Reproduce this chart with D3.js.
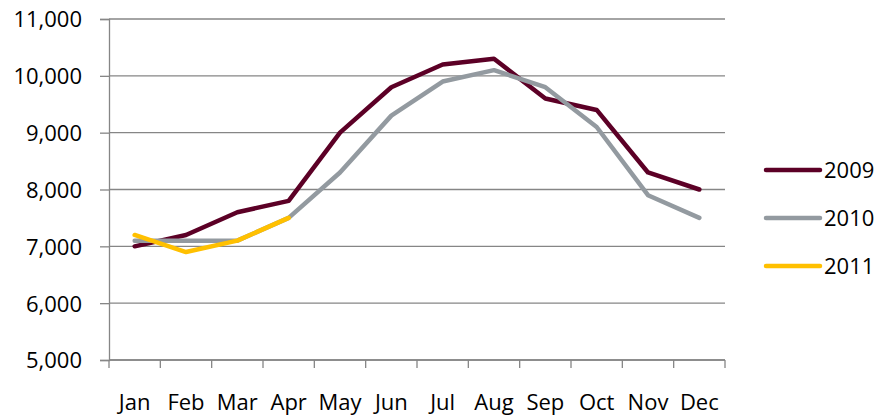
<!DOCTYPE html>
<html>
<head>
<meta charset="utf-8">
<script src="https://cdn.jsdelivr.net/npm/d3@7"></script>
<style>
  body { margin: 0; background: #fff; }
  text { font-family: "Open Sans", sans-serif; }
</style>
</head>
<body>
<div id="chart"></div>
<script>
const months = ['Jan', 'Feb', 'Mar', 'Apr', 'May', 'Jun', 'Jul', 'Aug', 'Sep', 'Oct', 'Nov', 'Dec'];
const years = ['2009', '2010', '2011'];
const values2009 = [7000, 7200, 7600, 7800, 9000, 9800, 10200, 10300, 9600, 9400, 8300, 8000];
const values2010 = [7100, 7100, 7100, 7500, 8300, 9300, 9900, 10100, 9800, 9100, 7900, 7500];
const values2011 = [7200, 6900, 7100, 7500];
const yTicks = [5000, 6000, 7000, 8000, 9000, 10000, 11000];
const colors = ['#5c0026', '#939aa0', '#ffc000'];

const series = [values2009, values2010, values2011].map((vals, i) => ({
    name: years[i],
    color: colors[i],
    points: vals.map((v, j) => ({ month: months[j], value: v }))
}));

const svg = d3.select('#chart')
    .append('svg')
    .attr('width', 879)
    .attr('height', 419);

const margin = { top: 19, right: 154, bottom: 59, left: 109 };
const width = 879 - margin.left - margin.right;
const height = 419 - margin.top - margin.bottom;

const g = svg.append('g')
    .attr('transform', 'translate(' + margin.left + ',' + margin.top + ')');

const x = d3.scaleBand()
    .domain(months)
    .range([0, width]);

const y = d3.scaleLinear()
    .domain([5000, 11000])
    .range([height, 0]);

// gridlines
g.selectAll('.grid')
    .data(yTicks)
    .enter().append('line')
    .attr('x1', 0)
    .attr('x2', width)
    .attr('y1', d => y(d))
    .attr('y2', d => y(d))
    .attr('stroke', '#868686')
    .attr('stroke-width', 1.3);

const yAxis = g.append('g')
    .call(d3.axisLeft(y).tickValues(yTicks).tickSize(9).tickPadding(18).tickFormat(d3.format(',')));
yAxis.select('.domain').attr('stroke', '#868686').attr('stroke-width', 1.3);
yAxis.selectAll('.tick line').attr('stroke', '#868686').attr('stroke-width', 1.3);
yAxis.selectAll('.tick text').attr('fill', '#000').attr('dy', '0.36em').style('font-size', '22px');

// x axis with ticks at band boundaries
const xAxisG = g.append('g')
    .attr('transform', 'translate(0,' + height + ')');
xAxisG.append('line')
    .attr('x1', 0).attr('x2', width)
    .attr('stroke', '#868686').attr('stroke-width', 1.3);
const bounds = months.map(m => x(m)).concat([width]);
xAxisG.selectAll('.xt')
    .data(bounds)
    .enter().append('line')
    .attr('x1', d => d).attr('x2', d => d)
    .attr('y1', 0).attr('y2', 8)
    .attr('stroke', '#868686').attr('stroke-width', 1.3);
xAxisG.selectAll('.xl')
    .data(months)
    .enter().append('text')
    .attr('x', d => x(d) + x.bandwidth() / 2)
    .attr('y', 50)
    .attr('text-anchor', 'middle')
    .style('font-size', '22px')
    .text(d => d);

const line = d3.line()
    .x(d => x(d.month) + x.bandwidth() / 2)
    .y(d => y(d.value));

g.selectAll('.series')
    .data(series)
    .enter().append('path')
    .attr('d', d => line(d.points))
    .attr('fill', 'none')
    .attr('stroke', d => d.color)
    .attr('stroke-width', 4.5)
    .attr('stroke-linejoin', 'round')
    .attr('stroke-linecap', 'round');

// legend
const legend = svg.append('g')
    .attr('transform', 'translate(766,170)');
const items = legend.selectAll('.item')
    .data(series)
    .enter().append('g')
    .attr('transform', (d, i) => 'translate(0,' + (i * 48) + ')');
items.append('line')
    .attr('x1', 0).attr('x2', 54)
    .attr('stroke', d => d.color)
    .attr('stroke-width', 4.5)
    .attr('stroke-linecap', 'round');
items.append('text')
    .attr('x', 58)
    .attr('y', 8)
    .style('font-size', '22px')
    .text(d => d.name);
</script>
</body>
</html>
